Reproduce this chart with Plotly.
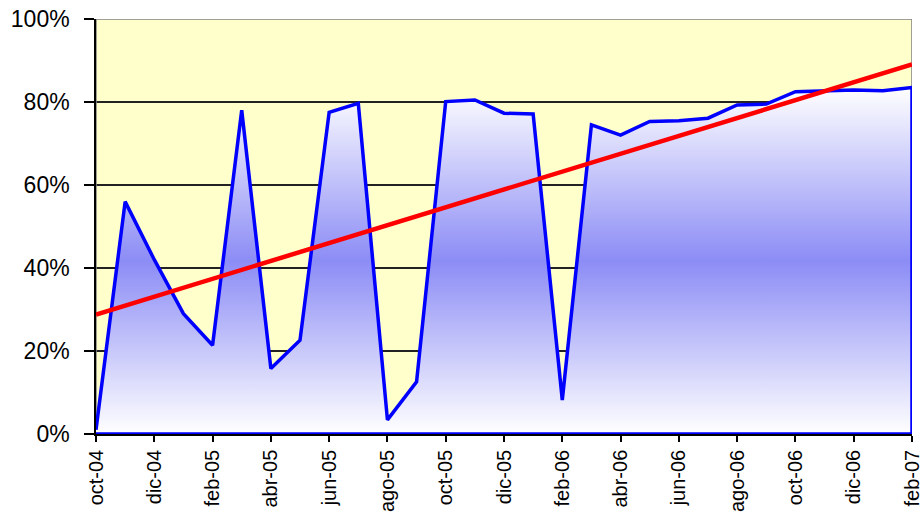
import numpy as np
import plotly.graph_objects as go

# Monthly series, oct-04 .. feb-07 (percent)
months = [
    "oct-04", "nov-04", "dic-04", "ene-05", "feb-05", "mar-05", "abr-05", "may-05",
    "jun-05", "jul-05", "ago-05", "sep-05", "oct-05", "nov-05", "dic-05", "ene-06",
    "feb-06", "mar-06", "abr-06", "may-06", "jun-06", "jul-06", "ago-06", "sep-06",
    "oct-06", "nov-06", "dic-06", "ene-07", "feb-07",
]
values = [
    1.0, 56.0, 42.0, 29.0, 21.4, 78.0, 15.8, 22.6,
    77.5, 79.7, 3.4, 12.6, 80.1, 80.5, 77.3, 77.1,
    8.2, 74.5, 72.0, 75.3, 75.5, 76.1, 79.3, 79.5,
    82.5, 82.7, 82.9, 82.7, 83.5,
]
y_ticks = [0, 20, 40, 60, 80, 100]
y_tick_labels = ["0%", "20%", "40%", "60%", "80%", "100%"]

idx = list(range(len(months)))
tick_idx = idx[::2]
tick_text = months[::2]

# linear trend of the series
slope, intercept = np.polyfit(idx, values, 1)
trend = [intercept + slope * i for i in idx]

family = "Liberation Sans, Arial, sans-serif"

fig = go.Figure()

# closed area outline: series, then down the right edge and back along the base
fig.add_trace(go.Scatter(
    x=idx + [idx[-1], idx[0]],
    y=values + [0, 0],
    mode="lines",
    fill="toself",
    fillgradient=dict(
        type="vertical",
        colorscale=[[0.0, "#FFFFFF"], [0.5, "#8C8CF6"], [1.0, "#FFFFFF"]],
    ),
    line=dict(color="#0000FF", width=3.5),
    cliponaxis=False,
    hoverinfo="skip",
    showlegend=False,
))

fig.add_trace(go.Scatter(
    x=idx,
    y=trend,
    mode="lines",
    line=dict(color="#FF0000", width=4.5),
    showlegend=False,
))

fig.add_shape(
    type="rect", xref="x", yref="y",
    x0=idx[0], x1=idx[-1], y0=0, y1=100,
    line=dict(color="#808080", width=1.5),
    layer="between",
)

fig.update_layout(
    width=923,
    height=517,
    margin=dict(l=96, r=11, t=19, b=83, autoexpand=False),
    paper_bgcolor="#FFFFFF",
    plot_bgcolor="#FFFFCC",
    font=dict(family=family, size=23, color="#000000"),
    showlegend=False,
)

fig.update_xaxes(
    range=[idx[0] - 0.0001, idx[-1] + 0.0001],
    automargin=False,
    tickmode="array",
    tickvals=tick_idx,
    ticktext=tick_text,
    tickangle=-90,
    tickfont=dict(family=family, size=20, color="#000000"),
    ticklabeloverflow="allow",
    ticks="outside",
    ticklen=6,
    tickcolor="#000000",
    tickwidth=1.5,
    showgrid=False,
    zeroline=False,
    showline=True,
    linecolor="#000000",
    linewidth=1.5,
    ticklabelstandoff=0,
)

fig.update_yaxes(
    range=[0, 100],
    automargin=False,
    tickmode="array",
    tickvals=y_ticks,
    ticktext=y_tick_labels,
    ticks="outside",
    ticklen=10,
    tickcolor="#000000",
    tickwidth=1.5,
    showgrid=True,
    gridcolor="#222222",
    gridwidth=1.5,
    zeroline=False,
    showline=True,
    linecolor="#000000",
    linewidth=1.5,
    ticklabelstandoff=10,
)

fig.write_html("out.html")
